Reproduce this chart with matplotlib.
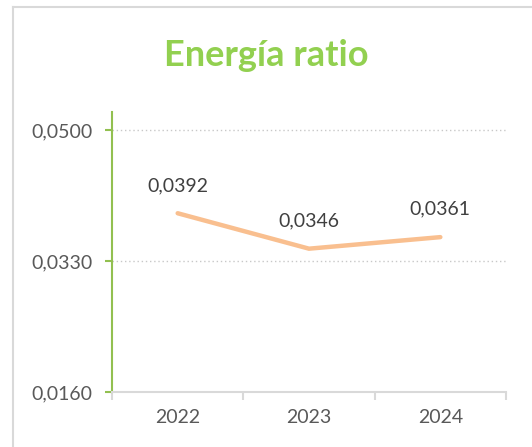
import matplotlib
matplotlib.use("Agg")
import matplotlib.pyplot as plt
from matplotlib.lines import Line2D

categories = ["2022", "2023", "2024"]
values = [0.0392, 0.0346, 0.0361]
ytick_values = [0.0160, 0.0330, 0.0500]
ytick_labels = ["0,0160", "0,0330", "0,0500"]
title = "Energía ratio"

plt.rcParams['font.family'] = ['Lato', 'DejaVu Sans']

W, H = 532, 447
fig = plt.figure(figsize=(W / 100, H / 100), dpi=100)

# outer chart border (left and top visible)
fig.add_artist(Line2D([13 / W, 13 / W], [0, 1 - 6.5 / H], transform=fig.transFigure,
                      color="#d9d9d9", lw=1.5))
fig.add_artist(Line2D([13 / W, 1], [1 - 6.5 / H, 1 - 6.5 / H], transform=fig.transFigure,
                      color="#d9d9d9", lw=1.5))

ax = fig.add_axes([112 / W, 1 - 392 / H, (506 - 112) / W, (392 - 112) / H])
x = list(range(len(categories)))
ax.plot(x, values, color="#F9BF8F", lw=3.2, solid_capstyle="round", solid_joinstyle="miter")
for xi, v in zip(x, values):
    ax.annotate(f"{v:.4f}".replace(".", ","), (xi, v), xytext=(0, 20), textcoords="offset points",
                ha="center", va="center", fontsize=14, color="#404040")

ax.set_xlim(-0.5, len(categories) - 0.5)
ax.set_ylim(0.016, 0.05234)
ax.set_yticks(ytick_values)
ax.set_yticklabels(ytick_labels)
ax.set_xticks(x)
ax.set_xticklabels(categories)
ax.set_xticks([i - 0.5 for i in range(len(categories) + 1)], minor=True)

for v in ytick_values[1:]:
    ax.axhline(v, color="#c8c8c8", lw=1, ls=(0, (1, 2)), zorder=0)

for s in ["top", "right"]:
    ax.spines[s].set_visible(False)
ax.spines["left"].set_color("#92C050")
ax.spines["left"].set_linewidth(1.5)
ax.spines["bottom"].set_color("#d9d9d9")
ax.spines["bottom"].set_linewidth(1.5)

ax.tick_params(axis="y", colors="#92C050", length=5, width=1.5, labelcolor="#595959",
               labelsize=14, pad=9)
ax.tick_params(axis="x", which="major", length=0, labelcolor="#595959", labelsize=14, pad=12)
ax.tick_params(axis="x", which="minor", length=6, width=1.5, color="#d9d9d9")

fig.text(0.5, 1 - 55 / H, title, ha="center", va="center",
         fontsize=26, fontweight="bold", color="#92D050")

fig.savefig("out.png", dpi=100, facecolor="white")
